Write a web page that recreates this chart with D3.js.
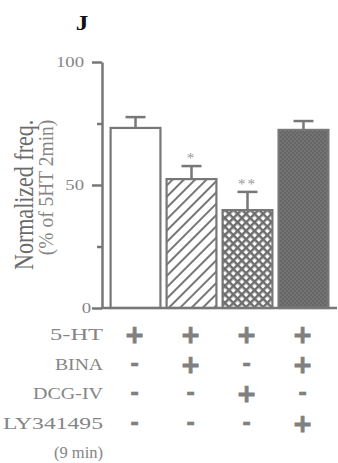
<!DOCTYPE html>
<html>
<head>
<meta charset="utf-8">
<script src="https://cdn.jsdelivr.net/npm/d3@7"></script>
<style>
  body { margin: 0; background: #fff; }
</style>
</head>
<body>
<div id="chart"></div>
<script>
const groups = ["5-HT", "5-HT+BINA", "5-HT+DCG-IV", "5-HT+BINA+LY341495"];
const means = [73.2, 52.4, 39.8, 72.4];
const sems = [4.4, 5.3, 7.4, 3.6];
const stars = ["", "*", "**", ""];
const yTicks = [0, 50, 100];
const yMinorTicks = [25, 75];
const rowLabels = ["5-HT", "BINA", "DCG-IV", "LY341495", "(9 min)"];
const rowSigns = [
  ["+", "+", "+", "+"],
  ["-", "+", "-", "+"],
  ["-", "-", "+", "-"],
  ["-", "-", "-", "+"],
  ["", "", "", ""]
];

const width = 338, height = 463;
const grey = "#777";
const textGrey = "#858585";
const serif = "'Liberation Serif', 'DejaVu Serif', serif";
// widths the row labels are stretched to in the figure
const labelWidths = [53, 48, 70, 100, 49];

const svg = d3.select("#chart")
  .append("svg")
  .attr("width", width)
  .attr("height", height);

const defs = svg.append("defs");

// diagonal hatch for bar 2
const hatch = defs.append("pattern")
  .attr("id", "hatch")
  .attr("patternUnits", "userSpaceOnUse")
  .attr("width", 8).attr("height", 8)
  .attr("patternTransform", "rotate(45)");
hatch.append("rect").attr("width", 8).attr("height", 8).attr("fill", "#fff");
hatch.append("line")
  .attr("x1", 0).attr("y1", 0).attr("x2", 0).attr("y2", 8)
  .attr("stroke", grey).attr("stroke-width", 4);

// cross hatch for bar 3
const cross = defs.append("pattern")
  .attr("id", "cross")
  .attr("patternUnits", "userSpaceOnUse")
  .attr("width", 6).attr("height", 6)
  .attr("patternTransform", "rotate(45)");
cross.append("rect").attr("width", 6).attr("height", 6).attr("fill", "#fff");
cross.append("path")
  .attr("d", "M0,0V6M0,0H6")
  .attr("stroke", "#6e6e6e").attr("stroke-width", 5);

// fine checker for bar 4
const checker = defs.append("pattern")
  .attr("id", "checker")
  .attr("patternUnits", "userSpaceOnUse")
  .attr("width", 4).attr("height", 4);
checker.append("rect").attr("width", 4).attr("height", 4).attr("fill", "#737373");
checker.append("rect").attr("width", 2).attr("height", 2).attr("fill", "#666");
checker.append("rect").attr("x", 2).attr("y", 2).attr("width", 2).attr("height", 2).attr("fill", "#666");

const fills = ["#fff", "url(#hatch)", "url(#cross)", "url(#checker)"];

const x = d3.scaleBand()
  .domain(groups)
  .range([105, 334])
  .paddingInner(0.11)
  .paddingOuter(0.1);

const y = d3.scaleLinear()
  .domain([0, 100])
  .range([308, 62]);

const rowY = d3.scalePoint()
  .domain(rowLabels)
  .range([334, 452]);

// title
svg.append("text")
  .attr("transform", "translate(82,30) scale(1.2,1)")
  .attr("text-anchor", "middle")
  .attr("font-family", serif)
  .attr("font-size", 21)
  .attr("font-weight", "bold")
  .attr("fill", "#111")
  .text("J");

// y axis
const yAxis = svg.append("g")
  .attr("transform", "translate(102,0)")
  .call(d3.axisLeft(y).tickValues(yTicks).tickSize(10).tickSizeOuter(0).tickFormat(""));
yAxis.select(".domain").attr("stroke", grey).attr("stroke-width", 2.5);
yAxis.selectAll(".tick line").attr("stroke", grey).attr("stroke-width", 2.5);

const yMinor = svg.append("g")
  .attr("transform", "translate(102,0)")
  .call(d3.axisLeft(y).tickValues(yMinorTicks).tickSize(5).tickFormat(""));
yMinor.select(".domain").remove();
yMinor.selectAll(".tick line").attr("stroke", grey).attr("stroke-width", 2.5);

svg.selectAll(".ytick-label")
  .data(yTicks)
  .enter()
  .append("text")
  .attr("class", "ytick-label")
  .attr("transform", d => `translate(${d === 0 ? 91 : 84},${y(d) + 5}) scale(1.25,1)`)
  .attr("text-anchor", "end")
  .attr("font-family", serif)
  .attr("font-size", 15)
  .attr("fill", textGrey)
  .text(d => d);

// y labels
svg.append("text")
  .attr("transform", `translate(33,${y(46)}) scale(1.2,1) rotate(-90)`)
  .attr("text-anchor", "middle")
  .attr("font-family", serif)
  .attr("font-size", 22)
  .attr("fill", "#6a6a6a")
  .text("Normalized freq.");

svg.append("text")
  .attr("transform", `translate(53,${y(49)}) scale(1.05,1) rotate(-90)`)
  .attr("text-anchor", "middle")
  .attr("font-family", serif)
  .attr("font-size", 19.5)
  .attr("fill", textGrey)
  .text("(% of 5HT 2min)");

// bars
svg.selectAll(".bar")
  .data(groups)
  .enter()
  .append("rect")
  .attr("class", "bar")
  .attr("x", d => x(d))
  .attr("y", (d, i) => y(means[i]))
  .attr("width", x.bandwidth())
  .attr("height", (d, i) => y(0) - y(means[i]))
  .attr("fill", (d, i) => fills[i])
  .attr("stroke", grey)
  .attr("stroke-width", 2.2);

// error bars
groups.forEach((g, i) => {
  const cx = x(g) + x.bandwidth() / 2;
  svg.append("line")
    .attr("x1", cx).attr("x2", cx)
    .attr("y1", y(means[i])).attr("y2", y(means[i] + sems[i]))
    .attr("stroke", grey).attr("stroke-width", 2.5);
  svg.append("line")
    .attr("x1", cx - 10).attr("x2", cx + 10)
    .attr("y1", y(means[i] + sems[i])).attr("y2", y(means[i] + sems[i]))
    .attr("stroke", grey).attr("stroke-width", 2.5);
  if (stars[i]) {
    svg.append("text")
      .attr("x", cx)
      .attr("y", y(means[i] + sems[i]) - 3)
      .attr("text-anchor", "middle")
      .attr("font-family", serif)
      .attr("font-size", 15)
      .attr("letter-spacing", 2)
      .attr("fill", "#999")
      .text(stars[i]);
  }
});

// x axis line
svg.append("line")
  .attr("x1", 101).attr("x2", 337)
  .attr("y1", y(0)).attr("y2", y(0))
  .attr("stroke", grey).attr("stroke-width", 2.5);

// treatment table
svg.selectAll(".row-label")
  .data(rowLabels)
  .enter()
  .append("text")
  .attr("class", "row-label")
  .attr("x", 103)
  .attr("y", d => rowY(d) + 6)
  .attr("text-anchor", "end")
  .attr("font-family", serif)
  .attr("font-size", 17)
  .attr("textLength", (d, i) => labelWidths[i])
  .attr("lengthAdjust", "spacingAndGlyphs")
  .attr("fill", textGrey)
  .text(d => d);

rowLabels.forEach((lab, r) => {
  svg.selectAll(null)
    .data(rowSigns[r])
    .enter()
    .append("text")
    .attr("x", (d, i) => x(groups[i]) + x.bandwidth() / 2 - 1)
    .attr("y", d => rowY(lab) + (d === "+" ? 9 : 7))
    .attr("text-anchor", "middle")
    .attr("font-family", "'DejaVu Sans', sans-serif")
    .attr("font-weight", "bold")
    .attr("font-size", d => d === "+" ? 24 : 21)
    .attr("fill", "#808080")
    .attr("stroke", "#808080")
    .attr("stroke-width", d => d === "+" ? 1 : 0.6)
    .text(d => d);
});
</script>
</body>
</html>
